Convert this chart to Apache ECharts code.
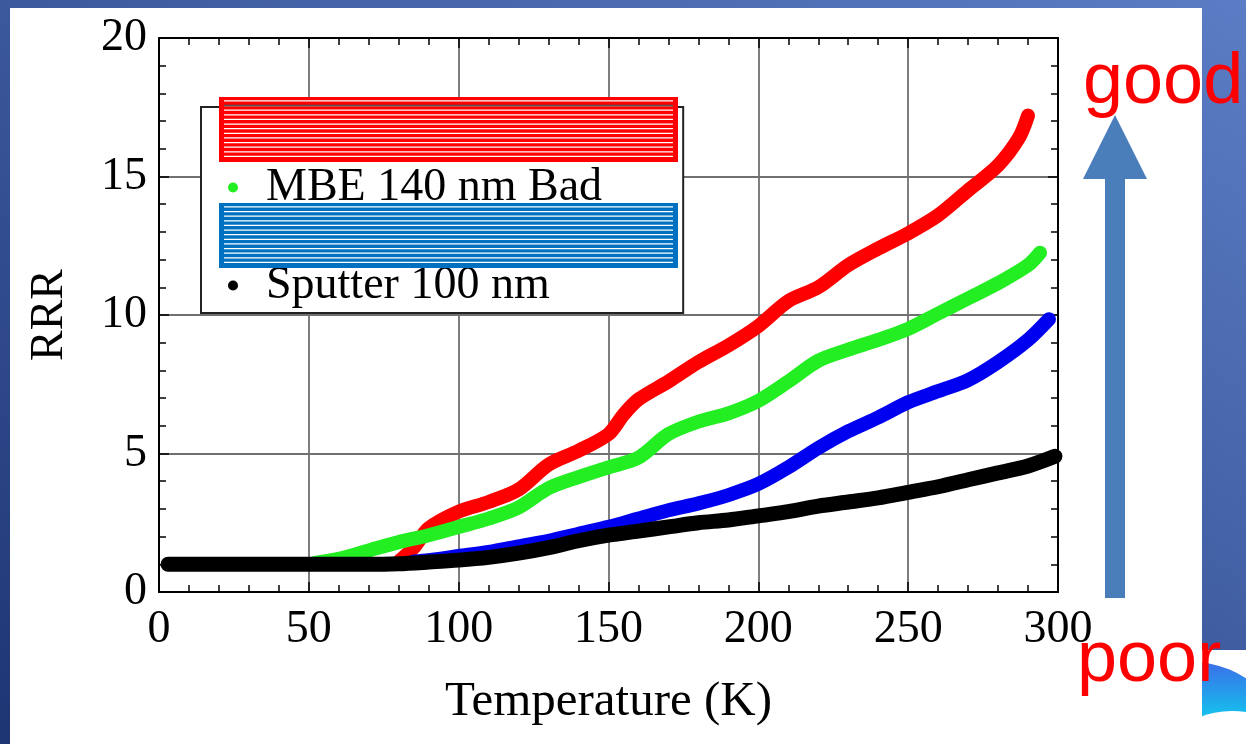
<!DOCTYPE html>
<html>
<head>
<meta charset="utf-8">
<script src="https://cdn.jsdelivr.net/npm/echarts@6/dist/echarts.min.js"></script>
<style>
  html, body { margin: 0; padding: 0; }
  body {
    width: 1246px; height: 744px; position: relative; overflow: hidden;
    background: linear-gradient(to bottom left, #5b7dc5, #1e3574);
  }
  .paper { position: absolute; background: #fff; }
  #logo { position: absolute; left: 1202px; top: 650px; width: 44px; height: 94px; background: #fff; overflow: hidden; }
  #logo .ring {
    position: absolute; left: -108px; top: 12px; width: 196px; height: 196px; border-radius: 50%;
    background: linear-gradient(to bottom, #3a6ee8, #13c8ee 30%, #00e6f2);
  }
  #logo .hole {
    position: absolute; left: -60px; top: 61px; width: 180px; height: 180px; border-radius: 50%; background: #fff;
  }
  #chart { position: absolute; left: 0; top: 0; width: 1246px; height: 744px; }
</style>
</head>
<body>
<div class="paper" style="left:10px;top:8px;width:1192px;height:736px"></div>
<div id="logo"><div class="ring"></div><div class="hole"></div></div>
<div id="chart"></div>
<script>
// RRR vs temperature, [T (K), RRR]
const mbe160Good = [[80, 1.1], [85, 1.6], [90, 2.3], [100, 2.9], [110, 3.25], [120, 3.7], [130, 4.6],
  [140, 5.1], [150, 5.7], [155, 6.4], [160, 6.95], [170, 7.6], [180, 8.3], [190, 8.9], [200, 9.6],
  [210, 10.5], [220, 11.0], [230, 11.8], [240, 12.4], [250, 12.95], [260, 13.6], [270, 14.5],
  [280, 15.4], [287, 16.4], [290, 17.2]]
const mbe140Bad = [[52, 1.05], [60, 1.2], [70, 1.5], [80, 1.8], [90, 2.05], [100, 2.35], [110, 2.65],
  [120, 3.05], [130, 3.75], [140, 4.15], [150, 4.5], [160, 4.85], [170, 5.7], [180, 6.15], [190, 6.45],
  [200, 6.9], [210, 7.6], [220, 8.35], [230, 8.75], [240, 9.1], [250, 9.5], [260, 10.05], [270, 10.6],
  [280, 11.15], [290, 11.8], [294, 12.25]]
const eb160 = [[85, 1.1], [90, 1.15], [100, 1.3], [110, 1.45], [120, 1.65], [130, 1.85], [140, 2.1],
  [150, 2.35], [160, 2.65], [170, 2.95], [180, 3.2], [190, 3.5], [200, 3.9], [210, 4.5], [220, 5.2],
  [230, 5.8], [240, 6.3], [250, 6.85], [260, 7.25], [270, 7.65], [280, 8.3], [290, 9.1], [297, 9.85]]
const sputter100 = [[3, 1], [10, 1], [20, 1], [30, 1], [40, 1], [50, 1], [60, 1], [70, 1], [80, 1.02],
  [90, 1.08], [100, 1.15], [110, 1.25], [120, 1.4], [130, 1.6], [140, 1.85], [150, 2.05], [160, 2.2],
  [170, 2.35], [180, 2.5], [190, 2.6], [200, 2.75], [210, 2.9], [220, 3.1], [230, 3.25], [240, 3.4],
  [250, 3.6], [260, 3.8], [270, 4.05], [280, 4.3], [290, 4.55], [299, 4.9]]
const seriesNames = ['MBE 160 nm Good', 'MBE 140 nm Bad', 'EB 160 nm', 'Sputter 100 nm']
const seriesColors = ['#ff0000', '#22ee22', '#0000f0', '#000000']

const serif = 'Liberation Serif'
let chart = echarts.init(document.getElementById('chart'))

function axisBase (pos, showLabel) {
  return {
    type: 'value',
    position: pos,
    axisLine: { show: true, onZero: false, lineStyle: { color: '#000', width: 2 } },
    axisTick: { show: true, inside: true, length: 10, lineStyle: { color: '#000', width: 1.5 } },
    minorTick: { show: true, splitNumber: 5, length: 7, lineStyle: { color: '#000', width: 1.5 } },
    axisLabel: { show: showLabel, color: '#000', fontFamily: serif, fontSize: 46, margin: 12 },
    splitLine: { show: showLabel, lineStyle: { color: '#707070', width: 1.8 } }
  }
}

// 覆盖图例的条纹块
function stripes (top, color) {
  let els = [{
    type: 'rect', z: 100, shape: { x: 219, y: top, width: 459, height: 65 }, style: { fill: color }
  }]
  for (let i = 0; i < 13; i++) {
    let y = top + 3.9 + i * 4.63
    els.push({
      type: 'line', z: 101,
      shape: { x1: 224, y1: y, x2: 673, y2: y },
      style: { stroke: '#fff', lineWidth: 1.3 }
    })
  }
  return els
}

let graphics = [].concat(stripes(97, '#ff0000'), stripes(203, '#0070c0'))
graphics.push({
  type: 'line', z: 102, shape: { x1: 224, y1: 105.5, x2: 673, y2: 105.5 },
  style: { stroke: '#555', lineWidth: 1.5 }
})
graphics.push({
  type: 'polygon', z: 100,
  shape: { points: [[1115, 115], [1147, 179], [1125, 179], [1125, 598], [1105, 598], [1105, 179], [1083, 179]] },
  style: { fill: '#4a7ebb' }
})
graphics.push({
  type: 'text', z: 100, x: 1083, y: 83,
  style: { text: 'good', fill: '#ff0000', font: '72px "Liberation Sans"', verticalAlign: 'middle' }
})
graphics.push({
  type: 'text', z: 100, x: 1077, y: 661,
  style: { text: 'poor', fill: '#ff0000', font: '72px "Liberation Sans"', verticalAlign: 'middle' }
})

let xBottom = axisBase('bottom', true)
xBottom.min = 0
xBottom.max = 300
xBottom.interval = 50
xBottom.axisLabel.margin = 15
xBottom.name = 'Temperature (K)'
xBottom.nameLocation = 'middle'
xBottom.nameGap = 86
xBottom.nameTextStyle = { color: '#000', fontFamily: serif, fontSize: 49 }
let xTop = axisBase('top', false)
xTop.min = 0
xTop.max = 300
xTop.interval = 50

let yLeft = axisBase('left', true)
yLeft.min = 0
yLeft.max = 20
yLeft.interval = 5
yLeft.name = 'RRR'
yLeft.nameLocation = 'middle'
yLeft.nameGap = 86
yLeft.nameTextStyle = { color: '#000', fontFamily: serif, fontSize: 46 }
let yRight = axisBase('right', false)
yRight.min = 0
yRight.max = 20
yRight.interval = 5

let allData = [mbe160Good, mbe140Bad, eb160, sputter100]

chart.setOption({
  animation: false,
  grid: { left: 159, right: 188, top: 38, bottom: 152 },
  legend: {
    orient: 'vertical',
    left: 201,
    top: 107,
    itemGap: 0,
    padding: [7, 53, 3, 27],
    backgroundColor: '#fff',
    borderColor: '#222',
    borderWidth: 2,
    icon: 'circle',
    itemWidth: 10,
    itemHeight: 10,
    textStyle: { color: '#000', fontFamily: serif, fontSize: 46, lineHeight: 49, padding: [0, 0, 0, 23] },
    data: seriesNames
  },
  xAxis: [xBottom, xTop],
  yAxis: [yLeft, yRight],
  series: allData.map((d, i) => ({
    name: seriesNames[i],
    type: 'line',
    xAxisIndex: 0,
    yAxisIndex: 0,
    data: d,
    smooth: 0.3,
    showSymbol: false,
    color: seriesColors[i],
    lineStyle: { width: i === 3 ? 15 : 14, color: seriesColors[i], cap: 'round', join: 'round' }
  })),
  graphic: graphics
})
</script>
</body>
</html>
